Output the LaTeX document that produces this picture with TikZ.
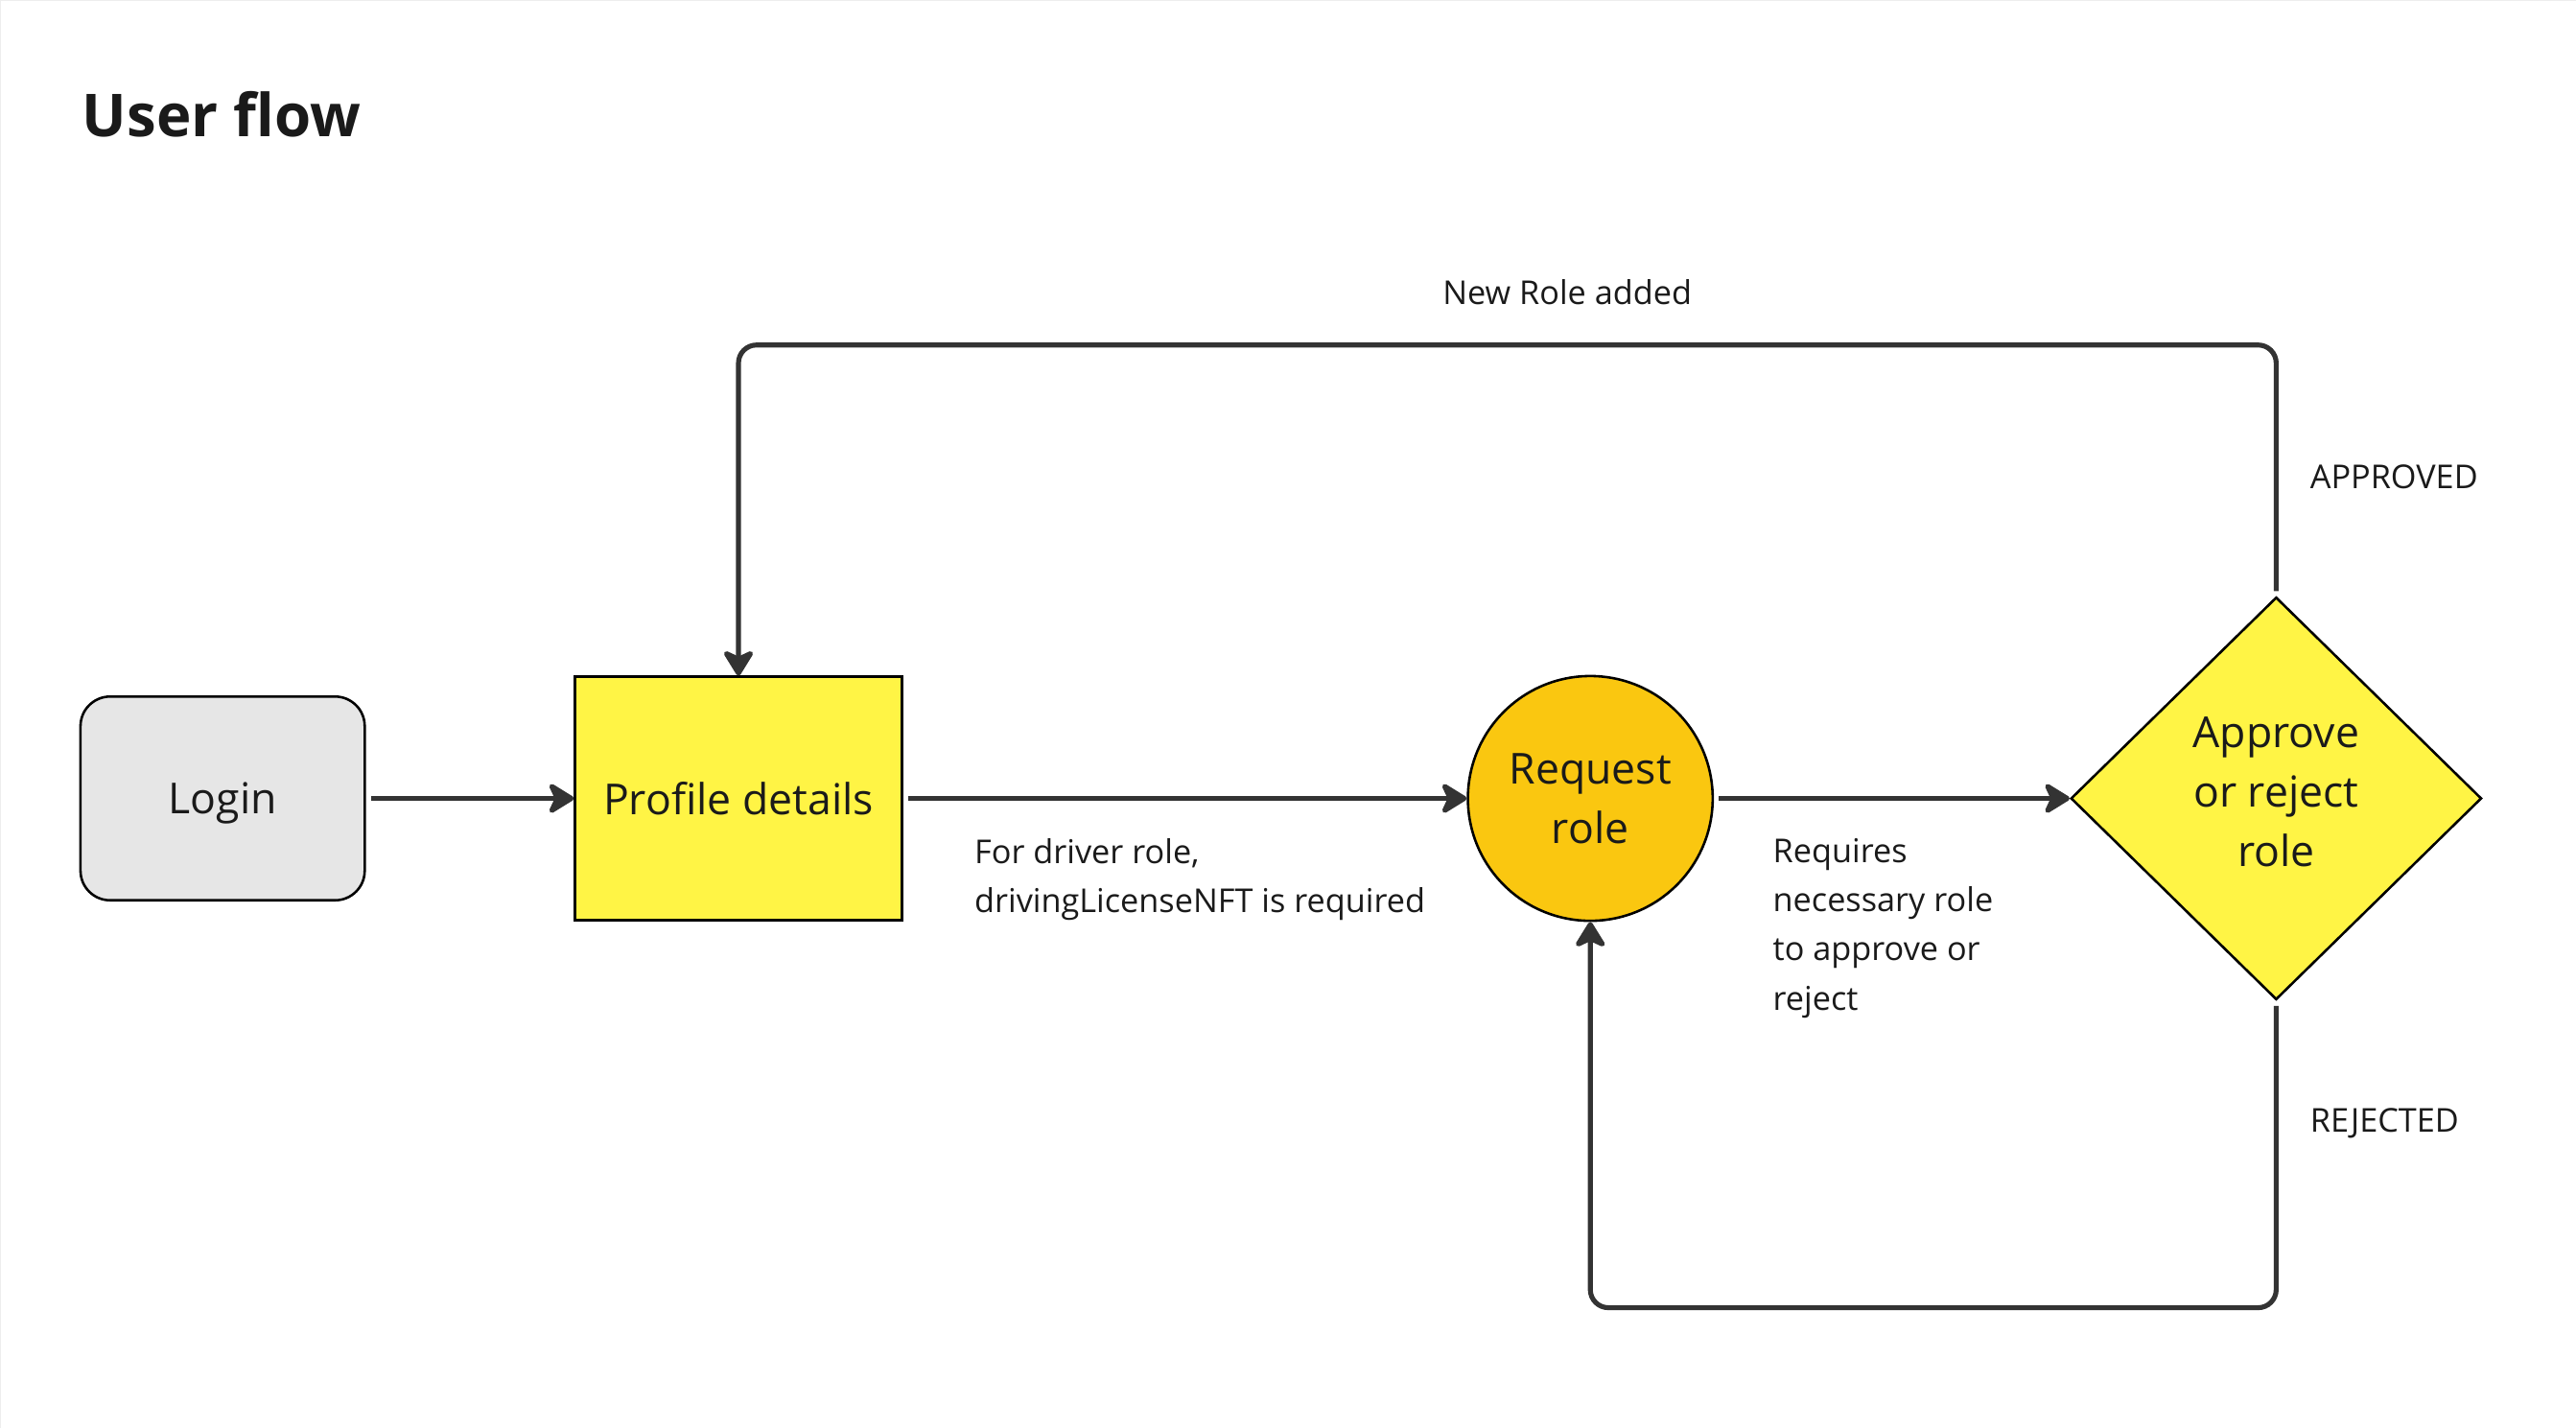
\documentclass[tikz,border=0pt]{standalone}
\usepackage{fontspec}
\setmainfont{Open Sans}
\usepackage{tikz}
\usetikzlibrary{arrows.meta,shapes.geometric,positioning}

\definecolor{lineGray}{HTML}{333333}
\definecolor{textBlack}{HTML}{1A1A1A}
\definecolor{stickyYellow}{HTML}{FFF445}
\definecolor{roleOrange}{HTML}{FAC710}
\definecolor{loginGray}{HTML}{E6E6E6}

\tikzset{
	shapebox/.style={draw=black, line width=1.5pt, text=textBlack, align=center, inner sep=0pt,
		font=\fontsize{26}{36}\selectfont},
	loginbox/.style={shapebox, fill=loginGray, rounded corners=18pt, minimum width=173pt, minimum height=124pt, text depth=0pt},
	stepbox/.style={shapebox, fill=stickyYellow, minimum width=199pt, minimum height=148pt},
	rolecircle/.style={shapebox, fill=roleOrange, circle, minimum size=149pt},
	decision/.style={shapebox, fill=stickyYellow, diamond, minimum width=250pt, minimum height=245pt},
	flow/.style={draw=lineGray, line width=3pt, rounded corners=11pt,
		-{Stealth[length=18pt, width=22pt, inset=5pt, round]}},
	note/.style={text=textBlack, inner sep=0pt, align=left, font=\fontsize{20}{30}\selectfont}
}

\begin{document}
\begin{tikzpicture}[x=1pt, y=-1pt]
	% Fix page size
	\useasboundingbox (0,0) rectangle (1568,869);
	\draw[black!7, line width=0.8pt] (0,869) -- (0,0) -- (1568,0);
	% Title
	\node[anchor=base west, inner sep=0pt, text=textBlack, font=\fontsize{36}{40}\selectfont\bfseries] (title) at (50,83) {User flow};
	% Draw nodes
	\node[loginbox] (login) at (135.5,486) {Login};
	\node[stepbox] (profile) at (449.5,486) {Profile details};
	\node[rolecircle] (request) at (968,486) {Request\\role};
	\node[decision] (approve) at (1385.5,486) {Approve\\or reject\\role\\[-28pt]};
	% Corners of the loops
	\coordinate (approvedTop) at (1385.5,210);
	\coordinate (profileTop) at (449.5,210);
	\coordinate (rejectedBottom) at (1385.5,796);
	\coordinate (requestBottom) at (968,796);
	% Draw arrows
	\draw[flow] ([xshift=3pt]login.east) -- (profile.west);
	\draw[flow] ([xshift=3pt]profile.east) -- (request.west);
	\draw[flow] ([xshift=3pt]request.east) -- (approve.west);
	\draw[flow] ([yshift=3pt]approve.north) -- (approvedTop) -- (profileTop) -- (profile.north);
	\draw[flow] ([yshift=-3pt]approve.south) -- (rejectedBottom) -- (requestBottom) -- (request.south);
	% Labels
	\node[note, align=center] (newRole) at (954,178) {New Role added};
	\node[note, anchor=west] (approvedLabel) at (1406,290) {APPROVED};
	\node[note, anchor=west] (rejectedLabel) at (1406,684) {REJECTED};
	\node[note, anchor=north west] (driverNote) at (593,510) {For driver role,\\drivingLicenseNFT is required};
	\node[note, anchor=north west] (requiresNote) at (1079,510) {Requires\\necessary role\\to approve or\\reject};
\end{tikzpicture}
\end{document}
